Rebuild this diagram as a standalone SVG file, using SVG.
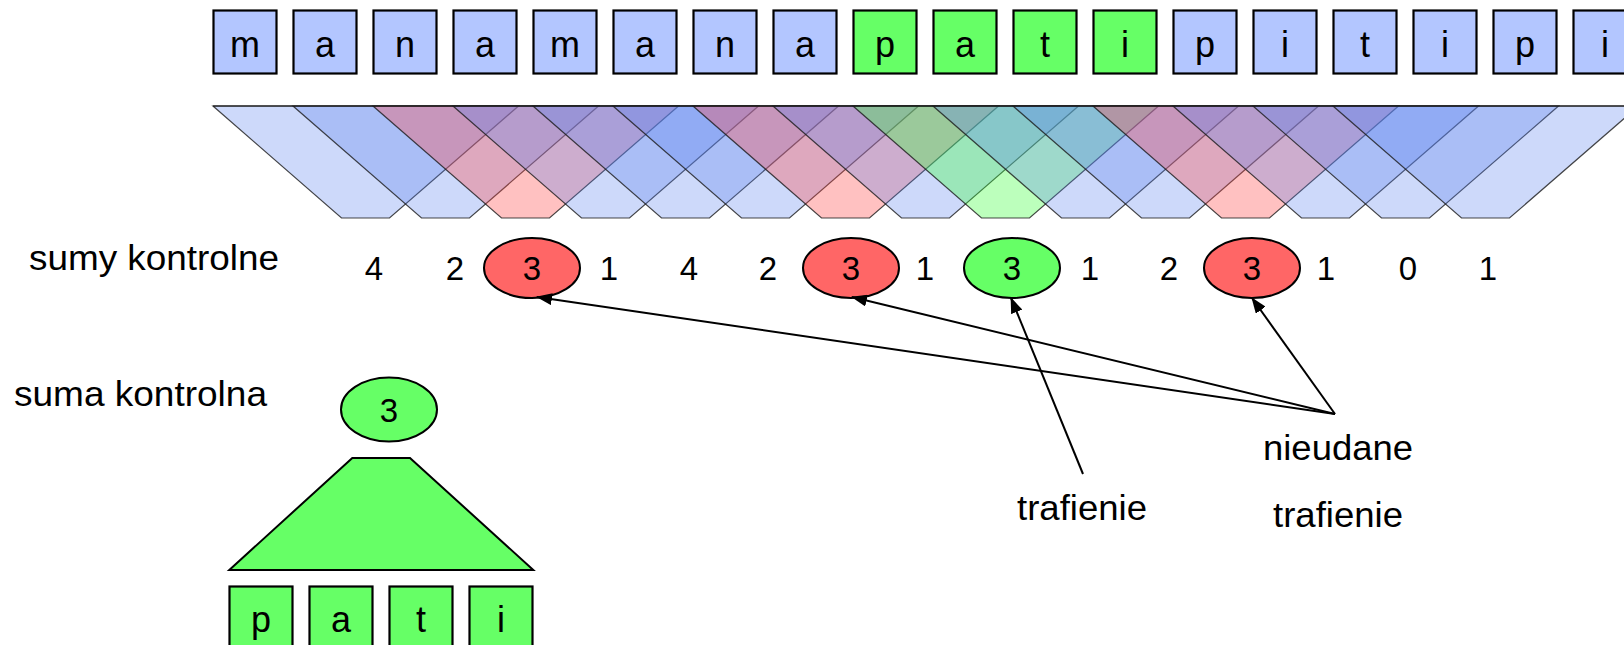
<svg xmlns="http://www.w3.org/2000/svg" xmlns:xlink="http://www.w3.org/1999/xlink" width="1624" height="645" viewBox="0 0 1624 645">
  <style>
    text { font-family: "Liberation Sans", Arial, sans-serif; fill: #000; }
    .box { stroke: #000; stroke-width: 2.2; }
    .blue { fill: #b3c6ff; }
    .green { fill: #66ff66; }
    .red { fill: #ff6666; }
    .ch { font-size: 36px; text-anchor: middle; }
    .num { font-size: 33px; text-anchor: middle; }
    .lbl { font-size: 35px; }
    .oval { stroke: #000; stroke-width: 2; }
    .win { stroke: #1a1a1a; stroke-opacity: 0.8; stroke-width: 1.2; }
    .win-b { fill: #5a82f0; fill-opacity: 0.3; }
    .win-r { fill: #ff4a4a; fill-opacity: 0.34; }
    .win-g { fill: #3cff3c; fill-opacity: 0.34; }
    .conn { stroke: #000; stroke-width: 2; fill: none; marker-end: url(#arrow); }
  </style>
  <defs>
    <!-- one sliding window of four characters, narrowing to its checksum -->
    <polygon id="window" points="213,106 518.5,106 389.5,218 341.5,218"/>
    <marker id="arrow" markerUnits="userSpaceOnUse" markerWidth="16" markerHeight="12" refX="15" refY="6" orient="auto">
      <path d="M0,0 L16,6 L0,12 z" fill="#000"/>
    </marker>
  </defs>

  <rect width="1624" height="645" fill="#fff"/>

  <!-- text row -->
  <g id="text-row">
    <g id="t0"><rect class="box blue" x="213.5" y="10.5" width="63" height="63"/><text class="ch" x="245" y="57">m</text></g>
    <g id="t1"><rect class="box blue" x="293.5" y="10.5" width="63" height="63"/><text class="ch" x="325" y="57">a</text></g>
    <g id="t2"><rect class="box blue" x="373.5" y="10.5" width="63" height="63"/><text class="ch" x="405" y="57">n</text></g>
    <g id="t3"><rect class="box blue" x="453.5" y="10.5" width="63" height="63"/><text class="ch" x="485" y="57">a</text></g>
    <g id="t4"><rect class="box blue" x="533.5" y="10.5" width="63" height="63"/><text class="ch" x="565" y="57">m</text></g>
    <g id="t5"><rect class="box blue" x="613.5" y="10.5" width="63" height="63"/><text class="ch" x="645" y="57">a</text></g>
    <g id="t6"><rect class="box blue" x="693.5" y="10.5" width="63" height="63"/><text class="ch" x="725" y="57">n</text></g>
    <g id="t7"><rect class="box blue" x="773.5" y="10.5" width="63" height="63"/><text class="ch" x="805" y="57">a</text></g>
    <g id="t8"><rect class="box green" x="853.5" y="10.5" width="63" height="63"/><text class="ch" x="885" y="57">p</text></g>
    <g id="t9"><rect class="box green" x="933.5" y="10.5" width="63" height="63"/><text class="ch" x="965" y="57">a</text></g>
    <g id="t10"><rect class="box green" x="1013.5" y="10.5" width="63" height="63"/><text class="ch" x="1045" y="57">t</text></g>
    <g id="t11"><rect class="box green" x="1093.5" y="10.5" width="63" height="63"/><text class="ch" x="1125" y="57">i</text></g>
    <g id="t12"><rect class="box blue" x="1173.5" y="10.5" width="63" height="63"/><text class="ch" x="1205" y="57">p</text></g>
    <g id="t13"><rect class="box blue" x="1253.5" y="10.5" width="63" height="63"/><text class="ch" x="1285" y="57">i</text></g>
    <g id="t14"><rect class="box blue" x="1333.5" y="10.5" width="63" height="63"/><text class="ch" x="1365" y="57">t</text></g>
    <g id="t15"><rect class="box blue" x="1413.5" y="10.5" width="63" height="63"/><text class="ch" x="1445" y="57">i</text></g>
    <g id="t16"><rect class="box blue" x="1493.5" y="10.5" width="63" height="63"/><text class="ch" x="1525" y="57">p</text></g>
    <g id="t17"><rect class="box blue" x="1573.5" y="10.5" width="63" height="63"/><text class="ch" x="1605" y="57">i</text></g>
  </g>

  <!-- overlapping windows -->
  <g id="windows" class="win">
    <use xlink:href="#window" href="#window" x="0" class="win-b"/>
    <use xlink:href="#window" href="#window" x="80" class="win-b"/>
    <use xlink:href="#window" href="#window" x="160" class="win-r"/>
    <use xlink:href="#window" href="#window" x="240" class="win-b"/>
    <use xlink:href="#window" href="#window" x="320" class="win-b"/>
    <use xlink:href="#window" href="#window" x="400" class="win-b"/>
    <use xlink:href="#window" href="#window" x="480" class="win-r"/>
    <use xlink:href="#window" href="#window" x="560" class="win-b"/>
    <use xlink:href="#window" href="#window" x="640" class="win-g"/>
    <use xlink:href="#window" href="#window" x="720" class="win-b"/>
    <use xlink:href="#window" href="#window" x="800" class="win-b"/>
    <use xlink:href="#window" href="#window" x="880" class="win-r"/>
    <use xlink:href="#window" href="#window" x="960" class="win-b"/>
    <use xlink:href="#window" href="#window" x="1040" class="win-b"/>
    <use xlink:href="#window" href="#window" x="1120" class="win-b"/>
    <line x1="213" y1="106" x2="1624" y2="106" stroke-width="1.6"/>
  </g>

  <!-- checksums row -->
  <text class="lbl" x="29" y="270" textLength="250" lengthAdjust="spacingAndGlyphs">sumy kontrolne</text>
  <g id="sums">
    <g id="s0"><text class="num" x="374" y="280">4</text></g>
    <g id="s1"><text class="num" x="455" y="280">2</text></g>
    <g id="s2"><ellipse class="oval red" cx="532" cy="268" rx="48" ry="30"/><text class="num" x="532" y="280">3</text></g>
    <g id="s3"><text class="num" x="609" y="280">1</text></g>
    <g id="s4"><text class="num" x="689" y="280">4</text></g>
    <g id="s5"><text class="num" x="768" y="280">2</text></g>
    <g id="s6"><ellipse class="oval red" cx="851" cy="268" rx="48" ry="30"/><text class="num" x="851" y="280">3</text></g>
    <g id="s7"><text class="num" x="925" y="280">1</text></g>
    <g id="s8"><ellipse class="oval green" cx="1012" cy="268" rx="48" ry="30"/><text class="num" x="1012" y="280">3</text></g>
    <g id="s9"><text class="num" x="1090" y="280">1</text></g>
    <g id="s10"><text class="num" x="1169" y="280">2</text></g>
    <g id="s11"><ellipse class="oval red" cx="1252" cy="268" rx="48" ry="30"/><text class="num" x="1252" y="280">3</text></g>
    <g id="s12"><text class="num" x="1326" y="280">1</text></g>
    <g id="s13"><text class="num" x="1408" y="280">0</text></g>
    <g id="s14"><text class="num" x="1488" y="280">1</text></g>
  </g>

  <!-- pattern and its checksum -->
  <text class="lbl" x="14" y="406" textLength="253" lengthAdjust="spacingAndGlyphs">suma kontrolna</text>
  <g id="pattern-sum"><ellipse class="oval green" cx="389" cy="409.5" rx="48" ry="32"/><text class="num" x="389" y="422">3</text></g>
  <g id="pattern-hash"><polygon points="352.3,458 410,458 533.3,570 229.3,570" fill="#66ff66" stroke="#000" stroke-width="2"/></g>
  <g id="pattern">
    <g id="p0"><rect class="box green" x="229.5" y="586.5" width="63" height="63"/><text class="ch" x="261" y="632">p</text></g>
    <g id="p1"><rect class="box green" x="309.5" y="586.5" width="63" height="63"/><text class="ch" x="341" y="632">a</text></g>
    <g id="p2"><rect class="box green" x="389.5" y="586.5" width="63" height="63"/><text class="ch" x="421" y="632">t</text></g>
    <g id="p3"><rect class="box green" x="469.5" y="586.5" width="63" height="63"/><text class="ch" x="501" y="632">i</text></g>
  </g>

  <!-- annotations -->
  <g id="label-miss"><text class="lbl" x="1263" y="460" textLength="150" lengthAdjust="spacingAndGlyphs">nieudane</text><text class="lbl" x="1273" y="527" textLength="130" lengthAdjust="spacingAndGlyphs">trafienie</text></g>
  <g id="label-hit"><text class="lbl" x="1017" y="520" textLength="130" lengthAdjust="spacingAndGlyphs">trafienie</text></g>

  <g id="connectors">
    <line class="conn" x1="1335" y1="414" x2="537" y2="297"/>
    <line class="conn" x1="1335" y1="414" x2="852" y2="297"/>
    <line class="conn" x1="1335" y1="414" x2="1252" y2="298"/>
    <line class="conn" x1="1083" y1="474" x2="1011" y2="298"/>
  </g>
</svg>
